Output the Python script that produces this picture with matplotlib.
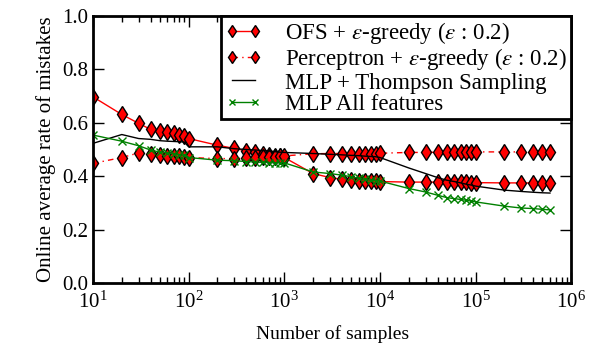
import numpy as np
import matplotlib
matplotlib.use("Agg")
import matplotlib.pyplot as plt

plt.rcParams['font.family'] = ['Liberation Serif', 'DejaVu Serif']
plt.rcParams['mathtext.fontset'] = 'stix'

# sample counts (x axis)
samples = [10, 20, 30, 40, 50, 60, 70, 80, 90, 100,
           200, 300, 400, 500, 600, 700, 800, 900, 1000,
           2000, 3000, 4000, 5000, 6000, 7000, 8000, 9000, 10000,
           20000, 30000, 40000, 50000, 60000, 70000, 80000, 90000, 100000,
           200000, 300000, 400000, 500000, 600000]

ofs = [0.697, 0.631, 0.598, 0.575, 0.569, 0.564, 0.560, 0.556, 0.551, 0.541,
       0.516, 0.504, 0.495, 0.489, 0.484, 0.480, 0.477, 0.474, 0.470,
       0.410, 0.395, 0.389, 0.385, 0.383, 0.382, 0.381, 0.381, 0.380,
       0.378, 0.378, 0.378, 0.377, 0.377, 0.377, 0.377, 0.376, 0.376,
       0.375, 0.375, 0.375, 0.375, 0.375]

perceptron = [0.448, 0.470, 0.487, 0.482, 0.479, 0.477, 0.475, 0.474, 0.472, 0.470,
              0.466, 0.466, 0.468, 0.470, 0.471, 0.472, 0.473, 0.474, 0.476,
              0.484, 0.485, 0.485, 0.485, 0.485, 0.485, 0.485, 0.485, 0.486,
              0.489, 0.489, 0.490, 0.490, 0.490, 0.490, 0.490, 0.490, 0.491,
              0.491, 0.491, 0.491, 0.491, 0.491]

mlp_ts = [0.523, 0.556, 0.541, 0.538, 0.533, 0.531, 0.530, 0.529, 0.528, 0.510,
          0.510, 0.503, 0.500, 0.498, 0.496, 0.494, 0.492, 0.490, 0.489,
          0.485, 0.482, 0.480, 0.478, 0.477, 0.475, 0.474, 0.473, 0.470,
          0.431, 0.410, 0.395, 0.385, 0.380, 0.375, 0.370, 0.367, 0.363,
          0.348, 0.343, 0.340, 0.338, 0.337]

mlp_all = [0.554, 0.531, 0.514, 0.498, 0.490, 0.487, 0.483, 0.480, 0.478, 0.470,
           0.460, 0.458, 0.455, 0.453, 0.452, 0.451, 0.450, 0.450, 0.450,
           0.416, 0.410, 0.404, 0.398, 0.392, 0.388, 0.385, 0.383, 0.382,
           0.354, 0.341, 0.329, 0.320, 0.316, 0.313, 0.310, 0.307, 0.304,
           0.288, 0.281, 0.279, 0.276, 0.274]

fig = plt.figure(figsize=(6, 3.53), dpi=100)
ax = fig.add_axes([0.155, 0.198, 0.797, 0.757])

diamond = dict(marker='d', markersize=8, markerfacecolor='red',
               markeredgecolor='black', markeredgewidth=1)
ax.plot(samples, ofs, '-', color='red', lw=1, **diamond,
        label=r'OFS + $\varepsilon$-greedy ($\varepsilon$ : 0.2)')
ax.plot(samples, perceptron, color='red', lw=1, linestyle=(0, (4, 3, 1, 3)), **diamond,
        label=r'Perceptron + $\varepsilon$-greedy ($\varepsilon$ : 0.2)')
ax.plot(samples, mlp_ts, '-', color='black', lw=1,
        label='MLP + Thompson Sampling')
ax.plot(samples, mlp_all, '-', color='green', marker='x', markersize=6,
        markeredgewidth=1, lw=1, label='MLP All features')

ax.set_xscale('log')
ax.set_xlim(10, 1e6)
ax.set_ylim(0, 1.0)
ax.set_yticks([0.0, 0.2, 0.4, 0.6, 0.8, 1.0])
ax.set_yticklabels(['0.0', '0.2', '0.4', '0.6', '0.8', '1.0'])
ax.tick_params(which='both', direction='in', top=True, right=True, labelsize=15)
ax.tick_params(which='major', length=8, width=1)
ax.tick_params(which='minor', length=4, width=1)
ax.tick_params(axis='x', pad=6)
for s in ax.spines.values():
    s.set_linewidth(2)

ax.set_xlabel('Number of samples', fontsize=14, labelpad=9)
ax.set_ylabel('Online average rate of mistakes', fontsize=15)

leg = ax.legend(loc='upper right', fontsize=16.5, fancybox=False, framealpha=1,
                edgecolor='black', borderaxespad=0.0, handlelength=1.6,
                labelspacing=0.0, borderpad=0.2, handletextpad=1.0,
                numpoints=2, markerscale=0.8)
leg.get_frame().set_linewidth(2)

fig.savefig('out.png', dpi=100)
